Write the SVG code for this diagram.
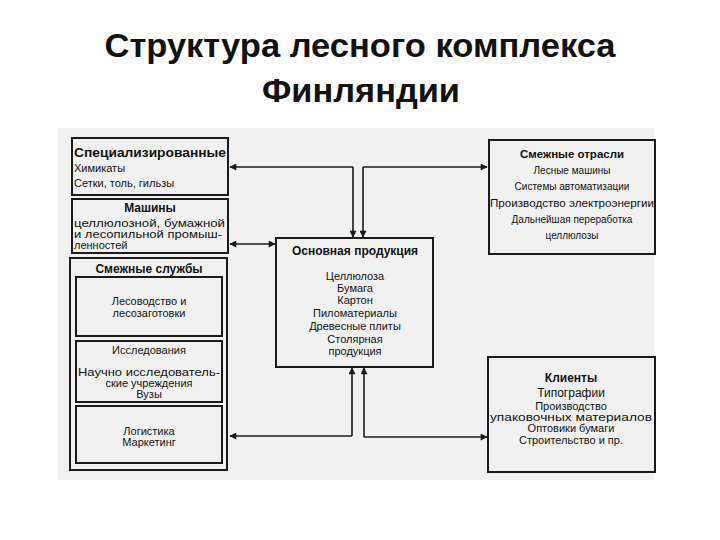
<svg xmlns="http://www.w3.org/2000/svg" width="720" height="540" viewBox="0 0 720 540">
<defs>
<style>
.t{font-family:"Liberation Sans",Arial,sans-serif;fill:#111}
.h{font-family:"Liberation Sans",Arial,sans-serif;font-weight:bold;fill:#111}
.box{fill:none;stroke:#1a1a1a;stroke-width:2}
.ln{fill:none;stroke:#1a1a1a;stroke-width:1.6}
</style>
<marker id="ah" viewBox="0 0 10 10" refX="9" refY="5" markerWidth="9" markerHeight="7" markerUnits="userSpaceOnUse" orient="auto-start-reverse">
<path d="M0,0 L10,5 L0,10 z" fill="#1a1a1a"/>
</marker>
</defs>
<rect width="720" height="540" fill="#ffffff"/>
<rect x="58" y="128" width="596" height="352" fill="#f1f1f1"/>
<g id="title">
<text class="h" x="360" y="57" font-size="34" text-anchor="middle" textLength="511" lengthAdjust="spacingAndGlyphs">Структура лесного комплекса</text>
<text class="h" x="361" y="102" font-size="34" text-anchor="middle" textLength="198" lengthAdjust="spacingAndGlyphs">Финляндии</text>
</g>
<g id="connectors">
<path class="ln" d="M353,167 H230" marker-end="url(#ah)"/>
<path class="ln" d="M353,167 V237" marker-end="url(#ah)"/>
<path class="ln" d="M363,167 H487" marker-end="url(#ah)"/>
<path class="ln" d="M363,167 V237" marker-end="url(#ah)"/>
<path class="ln" d="M230,244 H275" marker-start="url(#ah)" marker-end="url(#ah)"/>
<path class="ln" d="M352,436 V368" marker-end="url(#ah)"/>
<path class="ln" d="M352,436 H230" marker-end="url(#ah)"/>
<path class="ln" d="M364,437 V368" marker-end="url(#ah)"/>
<path class="ln" d="M364,437 H487" marker-end="url(#ah)"/>
</g>
<g id="specialized">
<rect class="box" x="72" y="138" width="156" height="57" fill="#f6f6f6"/>
<text class="h" x="74" y="157" font-size="12" textLength="152" lengthAdjust="spacingAndGlyphs">Специализированные</text>
<text class="t" x="74" y="172" font-size="11">Химикаты</text>
<text class="t" x="74" y="187" font-size="11">Сетки, толь, гильзы</text>
</g>
<g id="machines">
<rect class="box" x="72" y="199" width="156" height="54" fill="#f6f6f6"/>
<text class="h" x="150" y="212" font-size="12" text-anchor="middle">Машины</text>
<text class="t" x="74" y="227" font-size="11" textLength="151" lengthAdjust="spacingAndGlyphs">целлюлозной, бумажной</text>
<text class="t" x="74" y="238" font-size="11" textLength="148" lengthAdjust="spacingAndGlyphs">и лесопильной промыш-</text>
<text class="t" x="74" y="249" font-size="11">ленностей</text>
</g>
<g id="services">
<rect class="box" x="70" y="258" width="157" height="212" fill="#f6f6f6"/>
<text class="h" x="149" y="273" font-size="12" text-anchor="middle">Смежные службы</text>
<g id="forestry">
<rect class="box" x="76" y="277" width="146" height="59" fill="none"/>
<text class="t" x="149" y="305" font-size="11" text-anchor="middle">Лесоводство и</text>
<text class="t" x="149" y="317" font-size="11" text-anchor="middle">лесозаготовки</text>
</g>
<g id="research">
<rect class="box" x="76" y="341" width="146" height="61" fill="none"/>
<text class="t" x="149" y="354" font-size="11" text-anchor="middle">Исследования</text>
<text class="t" x="149" y="376" font-size="11" text-anchor="middle" textLength="142" lengthAdjust="spacingAndGlyphs">Научно исследователь-</text>
<text class="t" x="149" y="387" font-size="11" text-anchor="middle">ские учреждения</text>
<text class="t" x="149" y="398" font-size="11" text-anchor="middle">Вузы</text>
</g>
<g id="logistics">
<rect class="box" x="76" y="406" width="146" height="57" fill="none"/>
<text class="t" x="149" y="435" font-size="11" text-anchor="middle">Логистика</text>
<text class="t" x="149" y="446" font-size="11" text-anchor="middle">Маркетинг</text>
</g>
</g>
<g id="main">
<rect class="box" x="276" y="238" width="157" height="129" fill="#f6f6f6"/>
<text class="h" x="355" y="255" font-size="12" text-anchor="middle">Основная продукция</text>
<text class="t" x="355" y="280" font-size="11" text-anchor="middle">Целлюлоза</text>
<text class="t" x="355" y="292" font-size="11" text-anchor="middle">Бумага</text>
<text class="t" x="355" y="304" font-size="11" text-anchor="middle">Картон</text>
<text class="t" x="355" y="317" font-size="11" text-anchor="middle">Пиломатериалы</text>
<text class="t" x="355" y="330" font-size="11" text-anchor="middle">Древесные плиты</text>
<text class="t" x="355" y="343" font-size="11" text-anchor="middle">Столярная</text>
<text class="t" x="355" y="355" font-size="11" text-anchor="middle">продукция</text>
</g>
<g id="related">
<rect class="box" x="489" y="140" width="166" height="114" fill="#f6f6f6"/>
<text class="h" x="572" y="158" font-size="11.5" text-anchor="middle">Смежные отрасли</text>
<text class="t" x="572" y="174" font-size="10" text-anchor="middle">Лесные машины</text>
<text class="t" x="572" y="190" font-size="10" text-anchor="middle">Системы автоматизации</text>
<text class="t" x="572" y="207" font-size="10" text-anchor="middle" textLength="164" lengthAdjust="spacingAndGlyphs">Производство электроэнергии</text>
<text class="t" x="572" y="223" font-size="10" text-anchor="middle">Дальнейшая переработка</text>
<text class="t" x="572" y="239" font-size="10" text-anchor="middle">целлюлозы</text>
</g>
<g id="clients">
<rect class="box" x="488" y="357" width="167" height="115" fill="#f6f6f6"/>
<text class="h" x="571" y="382" font-size="12" text-anchor="middle">Клиенты</text>
<text class="t" x="571" y="397" font-size="12" text-anchor="middle">Типографии</text>
<text class="t" x="571" y="410" font-size="11" text-anchor="middle">Производство</text>
<text class="t" x="571" y="421" font-size="11" text-anchor="middle" textLength="162" lengthAdjust="spacingAndGlyphs">упаковочных материалов</text>
<text class="t" x="571" y="432" font-size="11" text-anchor="middle">Оптовики бумаги</text>
<text class="t" x="571" y="444" font-size="11" text-anchor="middle">Строительство и пр.</text>
</g>
</svg>
